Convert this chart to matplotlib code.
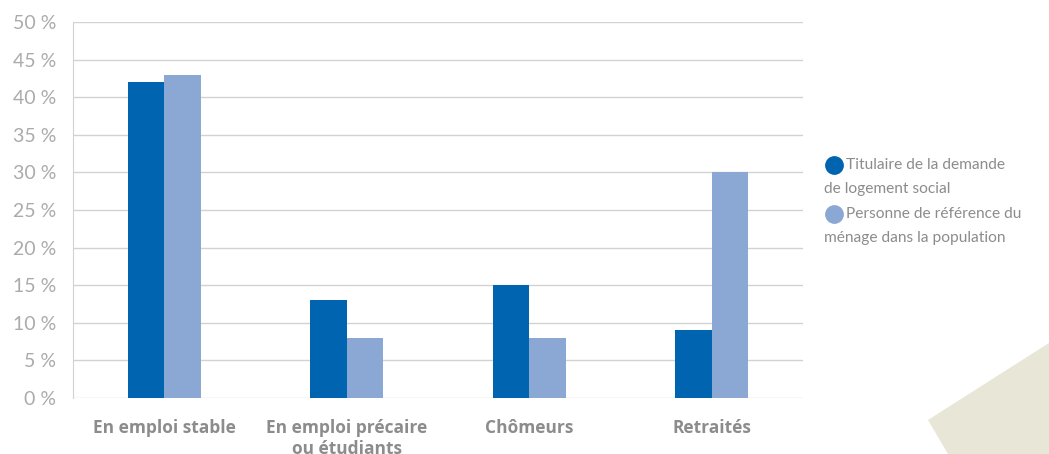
import numpy as np
import matplotlib.pyplot as plt
from matplotlib.lines import Line2D
from matplotlib.patches import Polygon

categories = ['En emploi stable', 'En emploi précaire\nou étudiants', 'Chômeurs', 'Retraités']
titulaire = [42, 13, 15, 9]
population = [43, 8, 8, 30]
yticks = [0, 5, 10, 15, 20, 25, 30, 35, 40, 45, 50]
legend_labels = [('Titulaire de la demande', 'de logement social'),
                 ('Personne de référence du', 'ménage dans la population')]

dark = '#0064b0'
light = '#8ba8d5'
grey_txt = '#8c8c8c'

plt.rcParams['font.family'] = ['Lato', 'DejaVu Sans']

fig = plt.figure(figsize=(10.49, 4.54), dpi=100)

# decorative shape bottom right
fig.add_artist(Polygon([[928/1049, 1 - 420/454], [1.0, 1 - 343/454], [1.0, 0.0], [948/1049, 0.0]],
                       closed=True, transform=fig.transFigure, facecolor='#e8e6d6', edgecolor='none', zorder=0))

ax = fig.add_axes([73/1049, 56/454, 730/1049, 376/454])
x = np.arange(len(categories))
w = 0.2
ax.bar(x - w/2, titulaire, w, color=dark, zorder=3)
ax.bar(x + w/2, population, w, color=light, zorder=3)

ax.set_xlim(-0.5, 3.5)
ax.set_ylim(0, 50)
ax.set_yticks(yticks)
ax.set_yticklabels(['%d %%' % v for v in yticks], color='#ababab', fontsize=14)
ax.set_xticks(x)
ax.set_xticklabels(categories, color=grey_txt, fontsize=12.5, fontweight='bold',
                   family='Open Sans', linespacing=1.2)
ax.tick_params(axis='both', length=0)
ax.tick_params(axis='x', pad=15)
ax.tick_params(axis='y', pad=12)
ax.yaxis.grid(True, color='#d2d2d2', linewidth=1)
ax.set_axisbelow(True)
for s in ['top', 'right', 'bottom']:
    ax.spines[s].set_visible(False)
ax.spines['left'].set_color('#d2d2d2')
ax.patch.set_alpha(0)

# legend
for i, ((l1, l2), col) in enumerate(zip(legend_labels, [dark, light])):
    yc = 1 - (165 + i * 49) / 454
    fig.add_artist(Line2D([834/1049], [yc], marker='o', markersize=12.5, color=col,
                          transform=fig.transFigure))
    fig.text(846/1049, yc, l1, color=grey_txt, fontsize=11.2, va='center', ha='left')
    fig.text(824/1049, yc - 24/454, l2, color=grey_txt, fontsize=11.2, va='center', ha='left')

fig.savefig('out.png', dpi=100)
